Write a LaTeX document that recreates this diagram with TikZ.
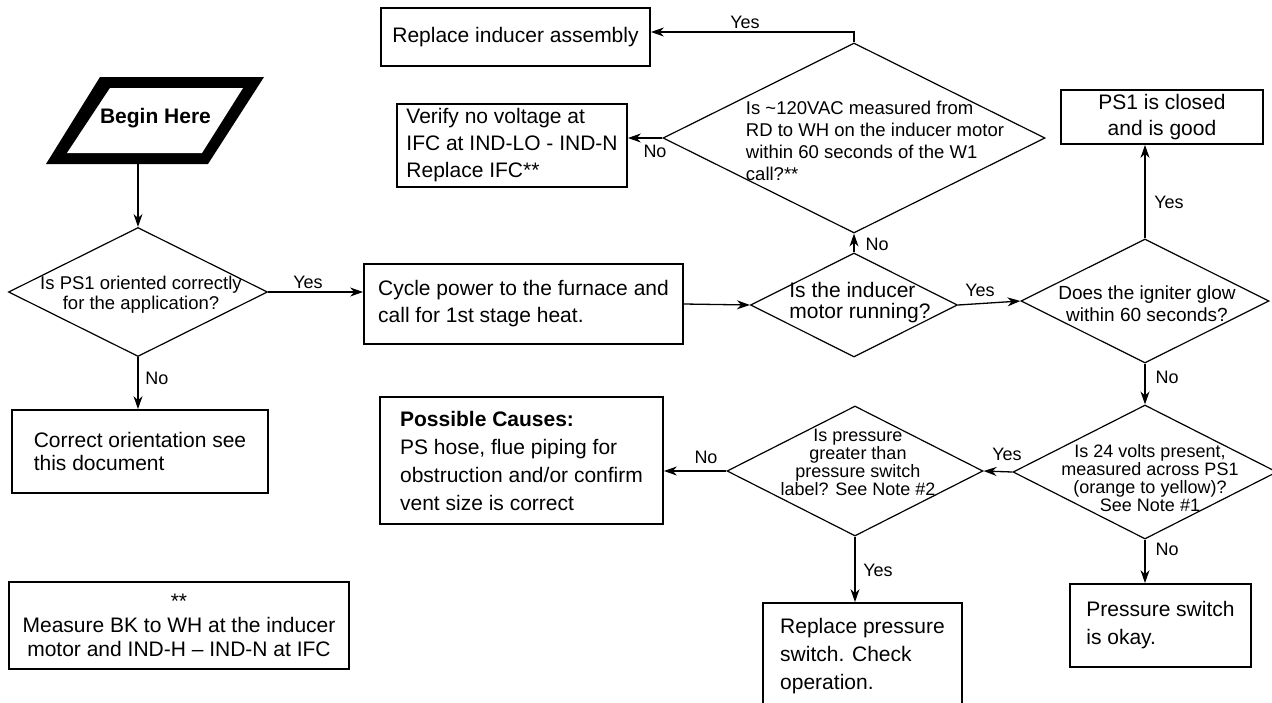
\documentclass[tikz,border=0pt]{standalone}
\usepackage{fontspec}
\setmainfont{Liberation Sans}
\usetikzlibrary{shapes.geometric,arrows.meta,calc}
\newcommand\fsz[2]{\fontsize{#1}{#2}\selectfont}
\begin{document}
\begin{tikzpicture}[x=1pt,y=-1pt,
  box/.style={draw, line width=1.8pt, inner sep=0pt, align=left, font=\fsz{21}{27}},
  dia/.style={draw, diamond, line width=1.2pt, inner sep=0pt},
  dtxt/.style={inner sep=0pt, align=center, font=\fsz{18.5}{20}},
  lbl/.style={inner sep=0pt, font=\fsz{18}{20}},
  arr/.style={line width=1.3pt, -{Stealth[length=13pt,width=9pt]}},
  plain/.style={line width=1.3pt}
]
\useasboundingbox (0,0) rectangle (1272,702);
\fill[white] (0,0) rectangle (1272,702);

% Begin Here parallelogram
\fill[black] (100,77) -- (264,77) -- (208,164) -- (46,164) -- cycle;
\fill[white] (110,88) -- (243,88) -- (202,153) -- (67,153) -- cycle;
\node[inner sep=0pt, font=\bfseries\fsz{21}{21}] (begin) at (155.5,118) {Begin Here};
\coordinate (beginB) at (138,164);

% diamonds
\node[dia, minimum width=259pt, minimum height=129pt] (d1) at (138,292) {};
\node[dtxt] (t1) at (141,295) {Is PS1 oriented correctly\\for the application?};

\node[dia, minimum width=382pt, minimum height=190pt] (vac) at (854,138) {};
\node[dtxt, align=left, font=\fsz{18.5}{22}] (tvac) at (875,141) {Is \textasciitilde120VAC measured from\\RD to WH on the inducer motor\\within 60 seconds of the W1\\call?**};

\node[dia, minimum width=207pt, minimum height=104pt] (ind) at (854,305) {};
\node[dtxt, align=left, font=\fsz{21}{21}] (tind) at (860,303) {Is the inducer\\motor running?};

\node[dia, minimum width=248pt, minimum height=124pt] (ign) at (1145,301) {};
\node[dtxt, font=\fsz{19}{22}] (tign) at (1147,304) {Does the igniter glow\\within 60 seconds?};

\node[dia, minimum width=264pt, minimum height=134pt] (v24) at (1145,472) {};
\node[dtxt, font=\fsz{18}{18}] (tv24) at (1150,478) {Is 24 volts present,\\measured across PS1\\(orange to yellow)?\\See Note \#1};

\node[dia, minimum width=256pt, minimum height=130pt] (prs) at (855,471) {};
\node[dtxt, font=\fsz{18}{18}] (tprs) at (858,462) {Is pressure\\greater than\\pressure switch\\label? See Note \#2};

% boxes
\node[box, align=center, minimum width=269pt, minimum height=58pt] (rep) at (515.5,37) {Replace inducer assembly};
\node[box, minimum width=230pt, minimum height=83pt] (ver) at (512,145.5) {Verify no voltage at\\IFC at IND-LO - IND-N\\Replace IFC**};
\node[box, align=center, font=\fsz{21}{26}, minimum width=202pt, minimum height=54pt] (ps1) at (1162,117) {PS1 is closed\\and is good};
\node[box, minimum width=319pt, minimum height=80pt] (cyc) at (523.5,304) {Cycle power to the furnace and\\call for 1st stage heat.};
\node[box, font=\fsz{21}{23}, minimum width=256pt, minimum height=83pt] (cor) at (140,451.5) {Correct orientation see\\this document};
\node[box, font=\fsz{21}{28}, minimum width=283pt, minimum height=127pt] (cau) at (521.5,460.5) {\textbf{Possible Causes:}\\PS hose, flue piping for\\obstruction and/or confirm\\vent size is correct};
\node[box, font=\fsz{21}{28}, minimum width=199pt, minimum height=106pt] (rpp) at (862.5,656) {Replace pressure\\switch. Check\\operation.};
\node[box, font=\fsz{21}{28}, minimum width=181pt, minimum height=83pt] (oky) at (1160.5,625.5) {Pressure switch\\is okay.};
\node[box, align=center, font=\fsz{21}{24}, minimum width=340pt, minimum height=87pt] (note) at (179,625.5) {**\\Measure BK to WH at the inducer\\motor and IND-H -- IND-N at IFC};

% connectors
\coordinate (ytop) at (0,32);
\draw[arr] (beginB) -- (d1.north);
\draw[arr] (d1.east) -- (d1.east -| cyc.west);
\draw[arr] (d1.south) -- (d1.south |- cor.north);
\draw[arr] (cyc.east) -- (ind.west);
\draw[arr] (ind.north) -- (vac.south);
\draw[arr] (vac.north) |- (rep.east |- ytop);
\draw[arr] (vac.west) -- (vac.west -| ver.east);
\draw[arr] (ind.east) -- (ign.west);
\draw[arr] (ign.north) -- (ign.north |- ps1.south);
\draw[arr] (ign.south) -- (v24.north);
\draw[arr] (v24.west) -- (prs.east);
\draw[arr] (v24.south) -- (v24.south |- oky.north);
\draw[arr] (prs.west) -- (prs.west -| cau.east);
\draw[arr] (prs.south) -- (prs.south |- rpp.north);

% labels
\node[lbl] (l1) at (308,282) {Yes};
\node[lbl] (l2) at (157,378) {No};
\node[lbl] (l3) at (745,22) {Yes};
\node[lbl] (l4) at (655,151) {No};
\node[lbl] (l5) at (877,244) {No};
\node[lbl] (l6) at (980,290) {Yes};
\node[lbl] (l7) at (1169,202) {Yes};
\node[lbl] (l8) at (1167,377) {No};
\node[lbl] (l9) at (1007,454) {Yes};
\node[lbl] (l10) at (1167,549) {No};
\node[lbl] (l11) at (706,457) {No};
\node[lbl] (l12) at (878,570) {Yes};
\end{tikzpicture}
\end{document}
